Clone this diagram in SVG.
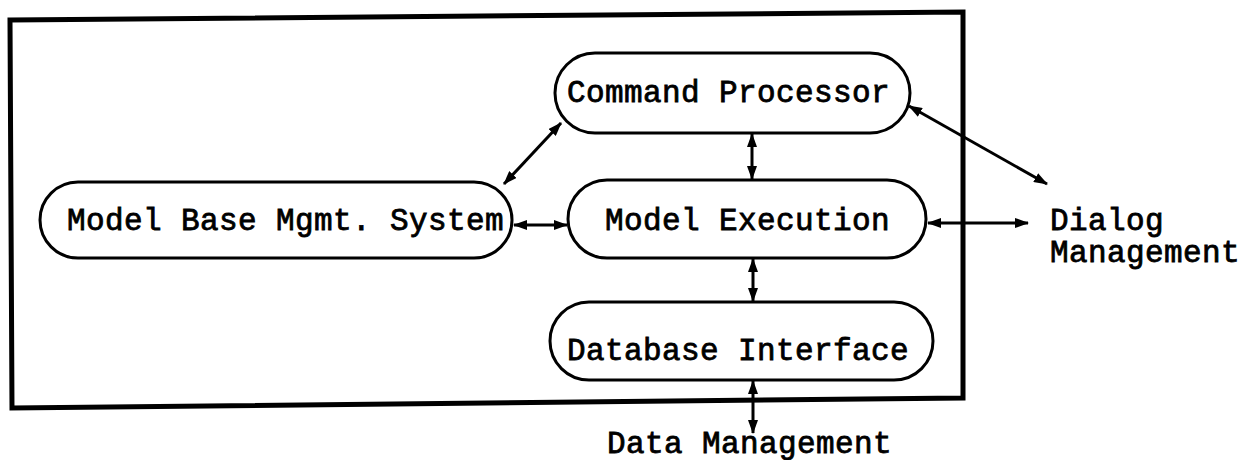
<svg xmlns="http://www.w3.org/2000/svg" width="1259" height="460" viewBox="0 0 1259 460">
<defs>
<style>
.frame{fill:none;stroke:#000;stroke-width:5;stroke-linejoin:miter}
.pill{fill:#fff;stroke:#000;stroke-width:3}
.lbl{font-family:"Liberation Mono","DejaVu Sans Mono",monospace;font-size:31px;font-weight:normal;letter-spacing:0.4px;fill:#000;stroke:#000;stroke-width:0.8px}
.con{fill:none;stroke:#000;stroke-width:3;marker-start:url(#ah);marker-end:url(#ah)}
</style>
<marker id="ah" markerUnits="userSpaceOnUse" markerWidth="14" markerHeight="10" refX="13" refY="5" orient="auto-start-reverse">
<path d="M0,0 L14,5 L0,10 z" fill="#000"/>
</marker>
</defs>
<polygon class="frame" points="10,20 963,12 963,398 12,408"/>
<g id="connectors">
<line class="con" x1="561" y1="123" x2="504" y2="184"/>
<line class="con" x1="752" y1="134" x2="752" y2="179"/>
<line class="con" x1="514" y1="225" x2="567" y2="225"/>
<line class="con" x1="928" y1="223" x2="1028" y2="223"/>
<line class="con" x1="909" y1="106" x2="1047" y2="184"/>
<line class="con" x1="753" y1="259" x2="753" y2="301"/>
<line class="con" x1="753" y1="381" x2="753" y2="433"/>
</g>
<g id="command-processor">
<rect class="pill" x="555" y="53" width="355" height="80" rx="40" ry="40"/>
<text class="lbl" x="567" y="102">Command Processor</text>
</g>
<g id="model-base-mgmt-system">
<rect class="pill" x="40" y="182" width="472" height="76" rx="38" ry="38"/>
<text class="lbl" x="67" y="230">Model Base Mgmt. System</text>
</g>
<g id="model-execution">
<rect class="pill" x="568" y="180" width="358" height="78" rx="39" ry="39"/>
<text class="lbl" x="605" y="230">Model Execution</text>
</g>
<g id="database-interface">
<rect class="pill" x="550" y="302" width="383" height="78" rx="39" ry="39"/>
<text class="lbl" x="567" y="360">Database Interface</text>
</g>
<g id="dialog-management">
<text class="lbl" x="1050" y="230">Dialog</text>
<text class="lbl" x="1050" y="262">Management</text>
</g>
<g id="data-management">
<text class="lbl" x="607" y="453">Data Management</text>
</g>
</svg>
